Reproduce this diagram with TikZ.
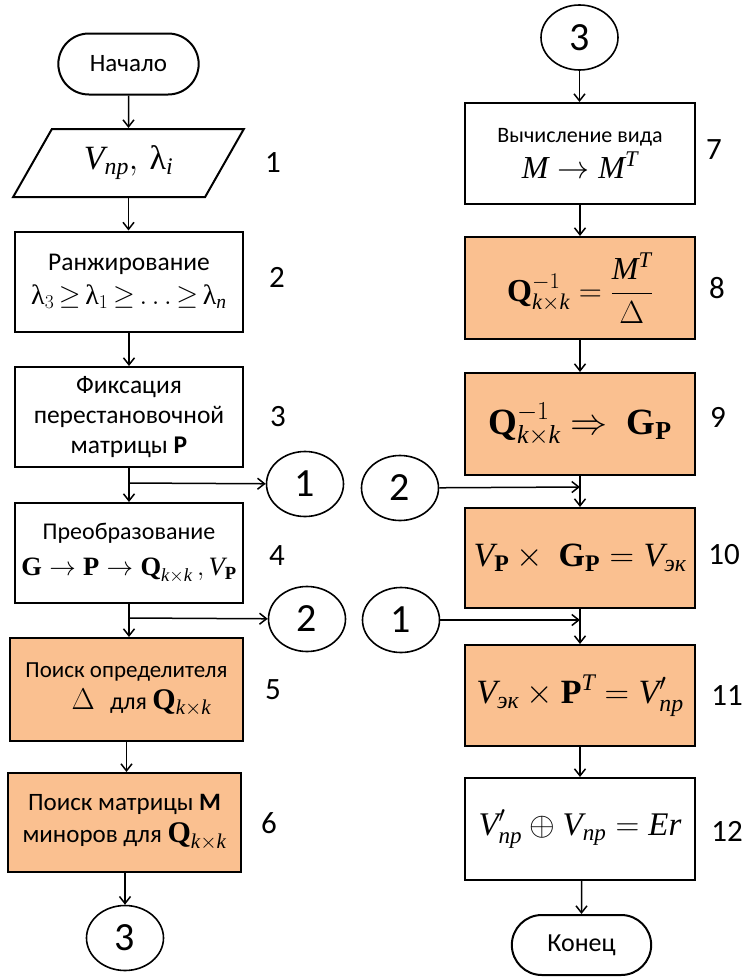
\RequirePackage{fix-cm}
\documentclass[tikz,border=0pt]{standalone}
\usepackage{amsmath}
\usepackage{fontspec}
\setmainfont{Carlito}
\newfontfamily\tms{Liberation Serif}
\usetikzlibrary{shapes.geometric,shapes.misc,arrows.meta}
\definecolor{boxorange}{RGB}{250,192,144}
\newcommand{\lamup}{\text{\tms λ}}
\newcommand{\ti}[1]{\text{\tms\itshape #1}}
\newcommand{\tb}[1]{\text{\tms\bfseries #1}}
\newcommand{\ek}{\ti{эк}}
\newcommand{\fs}[1]{\fontsize{#1}{#1}\selectfont}
\newcommand{\fsz}[2]{\fontsize{#1}{#2}\selectfont}
\tikzset{
  stepbox/.style={draw, line width=2pt, rectangle, minimum width=228pt, minimum height=100pt,
    align=center, inner sep=2pt, font=\fsz{25.5}{30}},
  obox/.style={stepbox, fill=boxorange},
  conn/.style={draw, line width=1.6pt, ellipse, minimum width=77pt, minimum height=65pt,
    inner sep=0pt, font=\fs{40}},
  term/.style={draw, line width=2pt, rounded rectangle, minimum width=147pt, minimum height=61pt,
    font=\fs{25}},
  arr/.style={line width=1.5pt, -{Straight Barb[length=7pt,width=11pt,line width=1.5pt]}},
  num/.style={font=\fs{31}, inner sep=0pt}
}
\begin{document}
\begin{tikzpicture}[x=1pt,y=-1pt]
\useasboundingbox (0,0) rectangle (746,977);
% left column
\node[term] (start) at (128.5,64) {Начало};
\node[draw, line width=2pt, trapezium, trapezium left angle=56.5, trapezium right angle=123.5,
  trapezium stretches=true, minimum width=231pt, minimum height=68pt, inner sep=0pt]
  (in1) at (128.5,163) {\fs{34}$\ti{V}_{\ti{np}},\,\lamup_{\ti{i}}$};
\node[stepbox] (b2) at (129,281.5) {Ранжирование\\[4pt] \fs{28}$\lamup_{3}\,{\ge}\,\lamup_{1}\,{\ge}\,{\ldots}\,{\ge}\,\lamup_{\ti{n}}$};
\node[stepbox] (b3) at (129,417) {Фиксация\\перестановочной\\матрицы \textbf{P}};
\node[stepbox] (b4) at (129,553) {\fs{24}Преобразование\\[6pt] \fs{26.5}$\tb{G}\to\tb{P}\to\tb{Q}_{\ti{k}\times \ti{k}}\,,\ti{V}_{\tb{P}}$};
\node[obox, minimum width=233pt, minimum height=103pt] (b5) at (126.5,689.5) {\fs{23}Поиск определителя\\[2pt] \hspace*{30pt}\fs{30}$\Delta$\; \fs{24}для \fs{30}$\tb{Q}_{\ti{k}\times \ti{k}}$};
\node[obox, minimum width=233pt, minimum height=99pt] (b6) at (124.5,822.5) {\fs{25}Поиск матрицы \textbf{M}\\[2pt] \fs{25}миноров для \fs{30}$\tb{Q}_{\ti{k}\times \ti{k}}$};
\node[conn] (c3L) at (125,938) {3};
\node[conn] (c1L) at (305,484) {1};
\node[conn] (c2L) at (307,619) {2};
\coordinate (j1) at (129,483);
\coordinate (j2) at (129,618);
% right column
\node[conn] (c3R) at (579.5,37.5) {3};
\node[stepbox, minimum width=230pt, minimum height=101pt] (b7) at (580,153.5) {\fs{22}Вычисление вида\\[4pt] \fs{32}$\ti{M} \to \ti{M}^{\ti{T}}$};
\node[obox, minimum width=230pt, minimum height=102pt] (b8) at (580,288) {\fs{32}$\tb{Q}_{\ti{k}\times \ti{k}}^{-1} = \dfrac{\ti{M}^{\ti{T}}}{\Delta}$};
\node[obox, minimum width=230pt, minimum height=102pt] (b9) at (580,424) {\fs{37}$\tb{Q}_{\ti{k}\times \ti{k}}^{-1} \Rightarrow\ \tb{G}_{\tb{P}}$};
\node[obox, minimum width=230pt, minimum height=100pt] (b10) at (580,558) {\fs{34}$\ti{V}_{\tb{P}}\times\ \tb{G}_{\tb{P}} = \ti{V}_{\ek}$};
\node[obox, minimum width=230pt, minimum height=101pt] (b11) at (580,695.5) {\fs{34}$\ti{V}_{\ek}\times \tb{P}^{\ti{T}} = \ti{V}'_{\ti{np}}$};
\node[stepbox, minimum width=230pt, minimum height=102pt] (b12) at (580,829) {\fs{33}$\ti{V}'_{\ti{np}}\oplus \ti{V}_{\ti{np}} = \ti{Er}$};
\node[term, minimum width=146pt, minimum height=60pt, font=\fs{26}] (end) at (581.5,945) {Конец};
\node[conn] (c2R) at (400,488) {2};
\node[conn] (c1R) at (401,620) {1};
\coordinate (j3) at (580,487);
\coordinate (j4) at (580,620);
% numbers
\node[num] (n1) at (273,163) {1};
\node[num] (n2) at (277,277) {2};
\node[num] (n3) at (278,417) {3};
\node[num] (n4) at (277,556) {4};
\node[num] (n5) at (273,690) {5};
\node[num] (n6) at (269,823) {6};
\node[num] (n7) at (714,150) {7};
\node[num] (n8) at (717,288) {8};
\node[num] (n9) at (718,417) {9};
\node[num] (n10) at (724,555) {10};
\node[num] (n11) at (727,696) {11};
\node[num] (n12) at (727,831) {12};
% connectors
\draw[arr] (start) -- (in1);
\draw[arr] (in1.south) -- (in1.south |- b2.north);
\draw[arr] (b2) -- (b3);
\draw[arr] (b3) -- (b4);
\draw[arr] (j1) -- (c1L);
\draw[arr] (b4.south) -- (b4.south |- b5.north);
\draw[arr] (j2) -- (c2L);
\draw[arr] (b5.south) -- (b5.south |- b6.north);
\draw[arr] (b6.south -| c3L) -- (c3L);
\draw[arr] (c3R) -- (c3R |- b7.north);
\draw[arr] (b7) -- (b8);
\draw[arr] (b8) -- (b9);
\draw[arr] (b9) -- (b10);
\draw[arr] (c2R) -- (j3);
\draw[arr] (b10) -- (b11);
\draw[arr] (c1R) -- (j4);
\draw[arr] (b11) -- (b12);
\draw[arr] (b12.south -| end) -- (end);
\end{tikzpicture}
\end{document}
